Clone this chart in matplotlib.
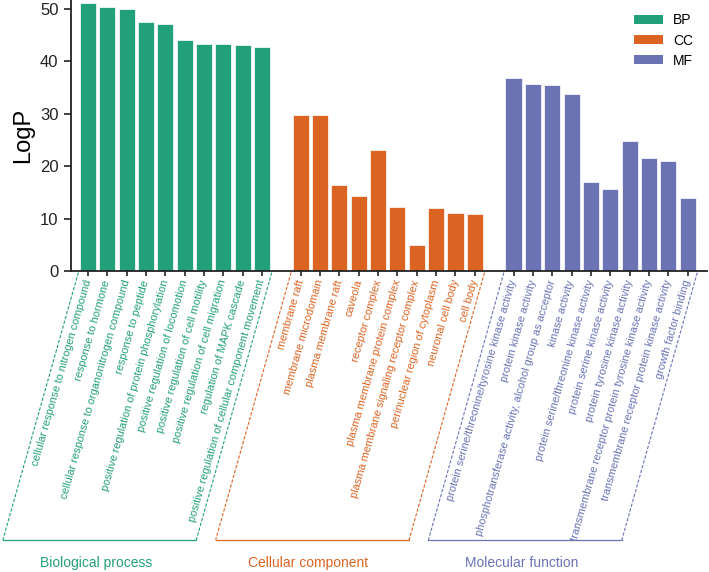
import matplotlib
matplotlib.use("Agg")
import matplotlib.pyplot as plt
from matplotlib.patches import Patch

plt.rcParams['font.family'] = ['Liberation Sans', 'DejaVu Sans']

# GO terms and -log(P) per category
bp_terms = ["cellular response to nitrogen compound", "response to hormone",
            "cellular response to organonitrogen compound", "response to peptide",
            "positive regulation of protein phosphorylation",
            "positive regulation of locomotion", "positive regulation of cell motility",
            "positive regulation of cell migration", "regulation of MAPK cascade",
            "positive regulation of cellular component movement"]
bp_vals = [51.2, 50.4, 50.0, 47.5, 47.1, 44.0, 43.4, 43.3, 43.1, 42.8]

cc_terms = ["membrane raft", "membrane microdomain", "plasma membrane raft", "caveola",
            "receptor complex", "plasma membrane protein complex",
            "plasma membrane signaling receptor complex",
            "perinuclear region of cytoplasm", "neuronal cell body", "cell body"]
cc_vals = [29.7, 29.7, 16.4, 14.4, 23.0, 12.2, 5.0, 12.0, 11.1, 10.8]

mf_terms = ["protein serine/threonine/tyrosine kinase activity", "protein kinase activity",
            "phosphotransferase activity, alcohol group as acceptor", "kinase activity",
            "protein serine/threonine kinase activity", "protein serine kinase activity",
            "protein tyrosine kinase activity",
            "transmembrane receptor protein tyrosine kinase activity",
            "transmembrane receptor protein kinase activity", "growth factor binding"]
mf_vals = [36.8, 35.6, 35.4, 33.7, 16.9, 15.6, 24.8, 21.5, 20.9, 13.9]

groups = ["BP", "CC", "MF"]
group_names = ["Biological process", "Cellular component", "Molecular function"]
colors = ["#22a079", "#dc6423", "#6b73b5"]

fig = plt.figure(figsize=(7.09, 5.72), dpi=100)
ax = fig.add_axes([0.1001, 0.5262, 0.8970, 0.4738])

all_terms = [bp_terms, cc_terms, mf_terms]
all_vals = [bp_vals, cc_vals, mf_vals]

ticks, labels, label_cols = [], [], []
slant = 3.9       # bracket horizontal shift (data units)
y_bot = -51.3     # bracket bottom (data units)
for g, (terms, vals) in enumerate(zip(all_terms, all_vals)):
    start = g * 11
    pos = [start + i for i in range(len(vals))]
    ax.bar(pos, vals, width=0.83, color=colors[g], edgecolor="white", linewidth=0.5)
    ticks += pos
    labels += terms
    label_cols += [colors[g]] * len(terms)

    # bracket around the group's labels
    x0, x1 = pos[0] - 0.5, pos[-1] + 0.5
    ax.plot([x0, x0 - slant], [-0.3, y_bot], color=colors[g], lw=0.8, ls=(0, (3, 1.5)), clip_on=False)
    ax.plot([x1, x1 - slant], [-0.3, y_bot], color=colors[g], lw=0.8, ls=(0, (3, 1.5)), clip_on=False)
    ax.plot([x0 - slant, x1 - slant], [y_bot, y_bot], color=colors[g], lw=0.9, clip_on=False)
    ax.text((x0 + x1) / 2 - slant - 0.2, -55.7, group_names[g], color=colors[g],
            fontsize=10, ha="center", va="center", clip_on=False)

ax.set_xticks(ticks)
ax.set_xticklabels(labels, fontsize=7.9)
for lab, c in zip(ax.get_xticklabels(), label_cols):
    lab.set_color(c)
    lab.set_rotation(74)
    lab.set_ha("right")
    lab.set_va("center")
    lab.set_rotation_mode("anchor")

ax.set_xlim(-0.88, 32.0)
ax.set_ylim(0, 51.7)
ax.set_yticks([0, 10, 20, 30, 40, 50])
ax.tick_params(axis="y", labelsize=12, length=5, width=1.2, pad=4, colors="#222222")
ax.tick_params(axis="x", length=3.5, width=1.2, pad=3, color="#222222")
ax.set_ylabel("LogP", fontsize=17, labelpad=4)

for s in ["top", "right"]:
    ax.spines[s].set_visible(False)
for s in ["left", "bottom"]:
    ax.spines[s].set_linewidth(1.3)
    ax.spines[s].set_color("#222222")

handles = [Patch(facecolor=c, label=n) for c, n in zip(colors, groups)]
fig.legend(handles=handles, loc="upper left", bbox_to_anchor=(634 / 709, 1 - 13.5 / 572),
           frameon=False, fontsize=10, handlelength=2.1, handleheight=0.65,
           handletextpad=0.7, labelspacing=0.44, borderpad=0, borderaxespad=0)

fig.savefig("out.png", dpi=100)
